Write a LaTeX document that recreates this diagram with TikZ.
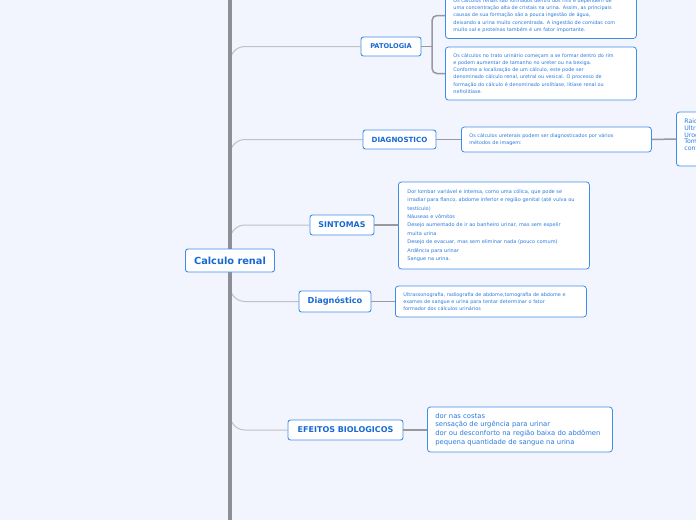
\documentclass[tikz,border=0pt]{standalone}
\usepackage{fontspec}
\setmainfont{DejaVu Sans}
\usepackage{xcolor}
\usetikzlibrary{backgrounds}
\definecolor{mapBg}{HTML}{F2F5FD}
\definecolor{mapBorder}{HTML}{3F8DEA}
\definecolor{mapTopic}{HTML}{1769D2}
\definecolor{mapNote}{HTML}{2A7BDE}
\definecolor{mapTrunk}{HTML}{8E8E96}
\definecolor{mapBranch}{HTML}{BFC0C8}
\definecolor{mapLink}{HTML}{98989E}

\begin{document}
\begin{tikzpicture}[x=1pt, y=-1pt,
  topic/.style={draw=mapBorder,fill=white,rounded corners=2.5pt,line width=0.9pt,
    text=mapTopic,inner sep=0pt,minimum height=20pt},
  note/.style={draw=mapBorder,fill=white,rounded corners=3pt,line width=0.8pt,
    text=mapNote,align=left,inner xsep=8pt,inner ysep=2pt,anchor=west},
  link/.style={draw=mapLink,line width=1.5pt},
  branch/.style={draw=mapBranch,line width=1pt,rounded corners=15pt},
  trunk/.style={draw=mapTrunk,line width=4.3pt}]
\useasboundingbox (0,0) rectangle (696,520);
\clip (0,0) rectangle (696,520);
% --- central topic ---
\node[topic,minimum width=89pt,minimum height=23pt,font=\bfseries\fontsize{9.8}{11}\selectfont] (calc) at (230,260.5) {Calculo renal};
% --- main topics ---
\node[topic,minimum width=60pt,minimum height=19pt,font=\bfseries\fontsize{6.6}{8}\selectfont] (pat) at (391,46.5) {PATOLOGIA};
\node[topic,minimum width=73pt,minimum height=19pt,font=\bfseries\fontsize{7.1}{8}\selectfont] (diag) at (399.5,139.5) {DIAGNOSTICO};
\node[topic,minimum width=64pt,font=\bfseries\fontsize{7.9}{9}\selectfont] (sint) at (342,225) {SINTOMAS};
\node[topic,minimum width=72pt,minimum height=21pt,font=\bfseries\fontsize{8.2}{9}\selectfont] (diagn) at (335,301.5) {Diagnóstico};
\node[topic,minimum width=115pt,font=\bfseries\fontsize{8}{9}\selectfont] (efe) at (345.5,430) {EFEITOS BIOLOGICOS};
% --- notes ---
\node[note,text width=175pt,minimum height=46pt,font=\fontsize{4.9}{7.3}\selectfont] (pat0) at (445,15.5)
  {Os cálculos renais são formados dentro dos rins e dependem de\\
   uma concentração alta de cristais na urina. Assim, as principais\\
   causas de sua formação são a pouca ingestão de água,\\
   deixando a urina muito concentrada. A ingestão de comidas com\\
   muito sal e proteínas também é um fator importante.};
\node[note,text width=175pt,minimum height=53pt,font=\fontsize{4.9}{7.1}\selectfont] (pat1) at (445,73.5)
  {Os cálculos no trato urinário começam a se formar dentro do rim\\
   e podem aumentar de tamanho no ureter ou na bexiga.\\
   Conforme a localização de um cálculo, este pode ser\\
   denominado cálculo renal, uretral ou vesical. O processo de\\
   formação do cálculo é denominado urolitíase, litíase renal ou\\
   nefrolitíase.};
\node[note,text width=174pt,minimum height=25pt,font=\fontsize{4.9}{6.7}\selectfont] (diag0) at (461,139.5)
  {Os cálculos ureterais podem ser diagnosticados por vários\\
   métodos de imagem:};
\node[note,text width=110pt,minimum height=54pt,font=\fontsize{6.2}{6.6}\selectfont] (diag1) at (676,139)
  {Raio X\\ Ultrassonografia\\ Urografia excretora\\ Tomografia\\ contrastada\\ \strut};
\node[note,text width=173pt,inner xsep=9pt,minimum height=87pt,font=\fontsize{5}{8.4}\selectfont] (sint0) at (398,225.5)
  {Dor lombar variável e intensa, como uma cólica, que pode se\\
   irradiar para flanco, abdome inferior e região genital (até vulva ou\\
   testículo)\\
   Náuseas e vômitos\\
   Desejo aumentado de ir ao banheiro urinar, mas sem expelir\\
   muita urina\\
   Desejo de evacuar, mas sem eliminar nada (pouco comum)\\
   Ardência para urinar\\
   Sangue na urina.};
\node[note,text width=175pt,minimum height=31pt,font=\fontsize{4.9}{7.1}\selectfont] (diagn0) at (395,301.5)
  {Ultrassonografia, radiografia de abdome,tomografia de abdome e\\
   exames de sangue e urina para tentar determinar o fator\\
   formador dos cálculos urinários};
\node[note,text width=169pt,minimum height=45pt,font=\fontsize{6.8}{8.8}\selectfont] (efe0) at (427,429.5)
  {dor nas costas\\
   sensação de urgência para urinar\\
   dor ou desconforto na região baixa do abdômen\\
   pequena quantidade de sangue na urina};
% --- links to notes ---
\coordinate (fork) at (432,46.5);
\draw[link] (pat.east) -- (fork);
\draw[link,rounded corners=5pt] (pat0.west) -| (fork) |- (pat1.west);
\draw[link] (diag) -- (diag0);
\draw[link] (diag0.east) -- (diag1.west);
\draw[link] (sint) -- (sint0.west |- sint);
\draw[link] (diagn) -- (diagn0);
\draw[link] (efe) -- (efe0.west |- efe);
% --- branches and trunk ---
\begin{scope}[on background layer]
  \fill[mapBg] (0,0) rectangle (696,520);
  \foreach \t in {pat,diag,sint,diagn,efe}
    \draw[branch] (calc.center) |- (\t.west);
  \draw[trunk] (calc.center |- 0,0) -- (calc.center |- 0,520);
\end{scope}
\end{tikzpicture}
\end{document}
